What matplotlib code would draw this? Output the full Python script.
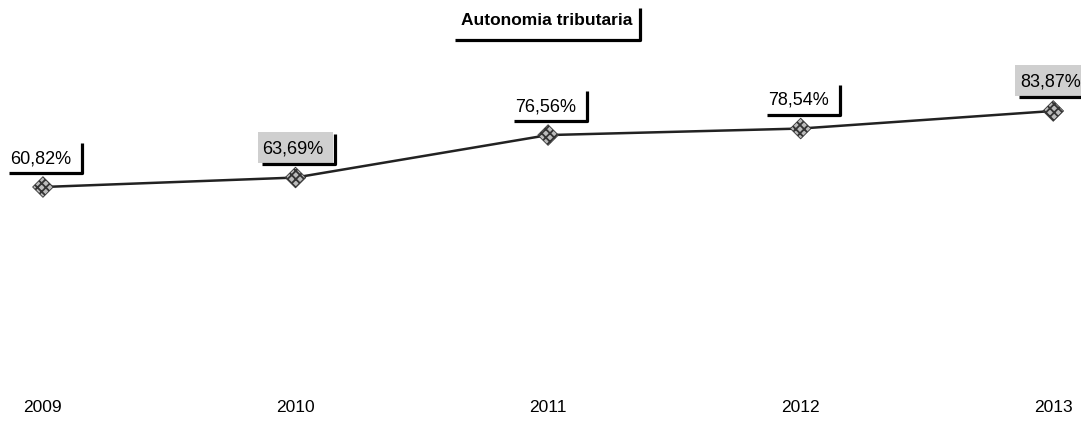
import matplotlib.pyplot as plt
import matplotlib.transforms as mtransforms

anni = [2009, 2010, 2011, 2012, 2013]
valori = [60.82, 63.69, 76.56, 78.54, 83.87]
etichette = ['60,82%', '63,69%', '76,56%', '78,54%', '83,87%']
ombreggiate = [False, True, False, False, True]

plt.rcParams['font.family'] = ['Liberation Sans', 'DejaVu Sans']
plt.rcParams['hatch.linewidth'] = 1.3

fig = plt.figure(figsize=(10.81, 4.21), dpi=100)
ax = fig.add_axes([0, 0, 1, 1])
ax.set_xlim(2008.83, 2013.11)
ax.set_ylim(-10.1, 117.5)
ax.axis('off')

ax.plot(anni, valori, color='#222222', lw=1.8, zorder=2)
ax.scatter(anni, valori, marker='D', s=110, facecolor='#bbbbbb',
           edgecolor='#333333', hatch='xxxx', linewidth=0.6, zorder=3)

# etichette con cornice a "L" (linea sotto e a destra), misure in pixel/100
for x, y, t, sh in zip(anni, valori, etichette, ombreggiate):
    tr = fig.dpi_scale_trans + mtransforms.ScaledTranslation(x, y, ax.transData)
    if sh:
        ax.fill([-0.38, 0.37, 0.37, -0.38], [0.15, 0.15, 0.46, 0.46],
                color='#cfcfcf', transform=tr, zorder=1, lw=0)
    ax.plot([-0.34, 0.39, 0.39], [0.14, 0.14, 0.44], color='black',
            lw=2.3, transform=tr, solid_capstyle='butt', zorder=4)
    ax.text(-0.33, 0.24, t, transform=tr, ha='left', va='baseline',
            fontsize=13, zorder=5)

# titolo
ax.text(0.506, 0.952, 'Autonomia tributaria', transform=ax.transAxes,
        ha='center', va='center', fontsize=12.5, fontweight='bold')
ax.plot([0.421, 0.592, 0.592], [0.905, 0.905, 0.98], color='black',
        lw=2.3, transform=ax.transAxes, solid_capstyle='butt')

# anni sull'asse
for x in anni:
    ax.text(x, 0.031, str(x), transform=ax.get_xaxis_transform(),
            ha='center', va='center', fontsize=12.5)

fig.savefig('out.png', dpi=100)
